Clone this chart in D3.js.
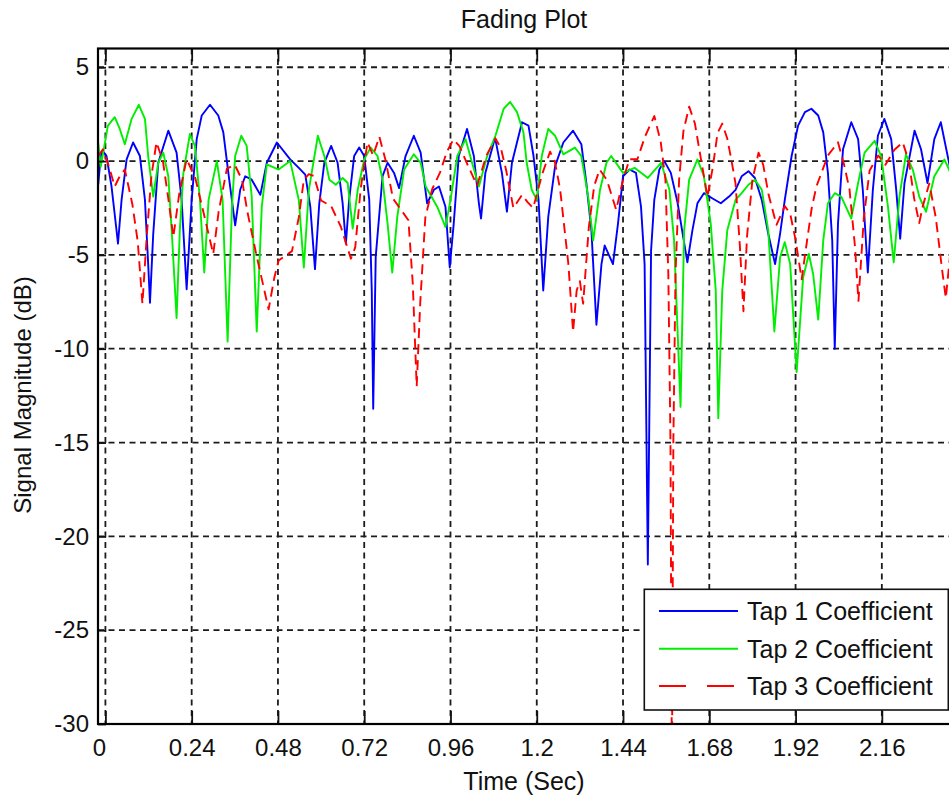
<!DOCTYPE html>
<html>
<head>
<meta charset="utf-8">
<script src="https://cdn.jsdelivr.net/npm/d3@7"></script>
<style>
  html, body { margin: 0; padding: 0; background: #fff; }
  svg { display: block; }
  text { font-family: "Liberation Sans", Arial, Helvetica, sans-serif; fill: #111; }
</style>
</head>
<body>
<svg id="chart" width="949" height="801"></svg>
<script>
// Fading magnitude (dB) of the three channel tap coefficients over time (s)
const tap1 = [
  [-0.020,-1.26],[-0.013,0.27],[-0.007,0.54],[0.003,0.27],[0.017,-1.35],[0.031,-3.7],[0.035,-4.4],
  [0.045,-2.07],[0.059,0.09],[0.077,0.99],[0.096,0.27],[0.110,-2.07],[0.119,-5.5],[0.124,-7.55],
  [0.133,-3.9],[0.147,-0.09],[0.175,1.62],[0.198,0.45],[0.212,-2.07],[0.226,-6.83],[0.240,-2.07],
  [0.254,1.17],[0.268,2.43],[0.291,3.0],[0.314,2.43],[0.328,1.53],[0.342,-0.63],[0.361,-3.42],
  [0.375,-1.53],[0.389,-0.81],[0.407,-0.99],[0.431,-1.8],[0.449,-0.09],[0.477,0.99],[0.514,0.09],
  [0.538,-0.36],[0.556,-0.72],[0.570,-2.43],[0.583,-5.76],[0.595,-2.25],[0.609,-0.09],[0.628,0.81],
  [0.646,-0.09],[0.660,-2.25],[0.669,-4.4],[0.678,-2.07],[0.692,0.27],[0.706,0.72],[0.720,0.27],
  [0.734,-2.07],[0.741,-6.9],[0.745,-13.2],[0.752,-5.1],[0.771,-0.8],[0.785,-0.09],[0.803,-0.63],
  [0.817,-1.44],[0.835,0.27],[0.858,1.35],[0.877,0.45],[0.895,-2.25],[0.914,-1.53],[0.928,-1.35],
  [0.946,-2.43],[0.958,-5.67],[0.969,-3.33],[0.983,0.27],[1.006,1.71],[1.025,0.27],[1.039,-2.25],
  [1.045,-3.06],[1.057,-0.63],[1.084,1.25],[1.103,-0.63],[1.117,-2.7],[1.131,-0.09],[1.159,2.07],
  [1.177,1.89],[1.191,0.27],[1.205,-2.07],[1.218,-6.9],[1.232,-2.97],[1.251,-0.27],[1.274,0.99],
  [1.301,1.62],[1.324,0.9],[1.338,-1.17],[1.352,-3.69],[1.366,-8.72],[1.380,-5.49],[1.389,-4.5],
  [1.412,-5.49],[1.426,-3.33],[1.440,-0.81],[1.458,-0.45],[1.476,-0.63],[1.490,-2.43],[1.500,-5.49],
  [1.509,-21.5],[1.518,-4.77],[1.527,-2.07],[1.541,-0.45],[1.555,0.0],[1.573,-0.63],[1.592,-2.25],
  [1.619,-5.4],[1.633,-3.69],[1.647,-2.25],[1.665,-1.71],[1.688,-1.98],[1.712,-2.25],[1.735,-1.89],
  [1.753,-1.53],[1.770,-0.81],[1.789,-0.54],[1.807,-0.9],[1.826,-2.07],[1.844,-3.87],[1.863,-5.49],
  [1.877,-3.87],[1.890,-2.07],[1.909,0.27],[1.927,1.89],[1.946,2.61],[1.964,2.79],[1.983,2.43],
  [1.997,1.53],[2.010,-0.63],[2.022,-4.23],[2.029,-10.0],[2.038,-3.33],[2.052,0.63],[2.075,2.07],
  [2.094,1.17],[2.107,-1.53],[2.121,-5.94],[2.135,-1.53],[2.149,1.35],[2.167,2.25],[2.186,1.17],
  [2.200,-1.53],[2.211,-4.14],[2.223,-1.17],[2.251,1.62],[2.269,0.63],[2.287,-1.17],[2.306,1.17],
  [2.324,2.07],[2.347,-0.09],[2.365,-2.0]
];

const tap2 = [
  [-0.020,0.99],[-0.013,-0.3],[0.007,1.89],[0.026,2.34],[0.040,1.71],[0.054,0.9],[0.073,2.25],
  [0.093,3.0],[0.110,2.25],[0.119,0.27],[0.133,-1.89],[0.147,-0.09],[0.161,0.45],[0.175,-0.81],
  [0.186,-4.23],[0.198,-8.36],[0.207,-3.69],[0.217,-0.63],[0.235,1.44],[0.249,0.81],[0.263,-2.07],
  [0.275,-5.94],[0.287,-2.07],[0.310,0.0],[0.326,-2.07],[0.340,-9.62],[0.352,-2.43],[0.361,0.27],
  [0.378,1.35],[0.393,0.81],[0.407,-1.89],[0.421,-9.08],[0.435,-2.43],[0.449,-0.18],[0.482,-0.45],
  [0.514,0.0],[0.538,-2.07],[0.552,-5.67],[0.566,-1.53],[0.591,1.35],[0.609,0.27],[0.623,-0.99],
  [0.641,-1.26],[0.660,-0.9],[0.674,-1.17],[0.688,-3.6],[0.702,-1.53],[0.720,0.09],[0.738,0.72],
  [0.757,0.27],[0.771,-0.99],[0.785,-3.33],[0.798,-5.94],[0.812,-2.97],[0.831,-0.45],[0.858,0.36],
  [0.877,-0.09],[0.891,-1.35],[0.923,-2.43],[0.946,-3.51],[0.960,-2.07],[0.979,0.27],[1.002,1.17],
  [1.020,-0.09],[1.039,-1.35],[1.062,0.27],[1.085,1.35],[1.108,2.79],[1.126,3.15],[1.145,2.61],
  [1.163,1.53],[1.172,-0.09],[1.186,-1.53],[1.200,-2.07],[1.214,0.27],[1.232,1.71],[1.251,1.35],
  [1.274,0.36],[1.306,0.72],[1.324,0.27],[1.343,-1.89],[1.357,-4.23],[1.376,-1.53],[1.394,-0.09],
  [1.407,0.27],[1.440,-0.63],[1.472,-0.36],[1.509,-0.9],[1.546,-0.09],[1.569,-1.53],[1.582,-4.23],
  [1.600,-13.1],[1.610,-3.69],[1.624,-0.99],[1.647,0.09],[1.665,-0.81],[1.684,-3.33],[1.698,-6.92],
  [1.705,-13.7],[1.716,-6.92],[1.730,-3.69],[1.753,-2.07],[1.770,-1.71],[1.789,-1.26],[1.807,-0.99],
  [1.826,-1.53],[1.844,-3.69],[1.861,-9.08],[1.877,-5.13],[1.890,-4.32],[1.905,-5.49],[1.923,-11.24],
  [1.941,-6.2],[1.957,-4.95],[1.969,-6.03],[1.983,-8.45],[1.997,-4.23],[2.010,-2.25],[2.029,-1.71],
  [2.047,-1.89],[2.075,-3.06],[2.094,-1.17],[2.112,0.45],[2.140,1.08],[2.158,0.27],[2.177,-2.43],
  [2.193,-5.4],[2.209,-1.89],[2.227,0.36],[2.246,-0.45],[2.264,-1.89],[2.283,-2.7],[2.306,-0.81],
  [2.334,0.09],[2.347,-0.45],[2.365,-1.5]
];

const tap3 = [
  [-0.020,0.27],[-0.007,0.63],[0.010,-0.3],[0.026,-1.35],[0.040,-0.8],[0.054,-0.45],[0.075,-2.3],
  [0.090,-4.3],[0.103,-7.6],[0.115,-4.0],[0.128,-0.8],[0.142,1.0],[0.160,0.0],[0.175,-2.0],
  [0.189,-4.05],[0.205,-1.8],[0.226,0.1],[0.250,-0.9],[0.270,-2.5],[0.300,-4.95],[0.315,-2.7],
  [0.338,-0.4],[0.360,-0.2],[0.380,-1.0],[0.395,-2.7],[0.420,-5.0],[0.454,-7.9],[0.470,-6.2],
  [0.482,-5.3],[0.519,-4.8],[0.538,-3.0],[0.552,-1.0],[0.566,-0.7],[0.580,-0.8],[0.600,-2.1],
  [0.628,-2.4],[0.655,-3.5],[0.683,-5.2],[0.695,-4.6],[0.710,-1.5],[0.729,1.0],[0.745,0.3],
  [0.762,1.3],[0.780,0.0],[0.800,-2.0],[0.843,-3.15],[0.855,-6.5],[0.866,-12.0],[0.876,-7.5],
  [0.890,-3.0],[0.909,-1.5],[0.931,-0.6],[0.950,0.5],[0.968,1.15],[0.985,0.8],[1.010,-0.3],
  [1.034,-1.3],[1.060,0.3],[1.085,1.2],[1.100,0.7],[1.115,-0.5],[1.135,-2.5],[1.159,-1.8],
  [1.175,-2.2],[1.190,-2.5],[1.215,-0.7],[1.237,0.5],[1.250,0.0],[1.265,-1.5],[1.288,-5.5],
  [1.301,-9.1],[1.311,-6.9],[1.320,-6.4],[1.329,-7.6],[1.345,-3.5],[1.360,-1.3],[1.375,-0.45],
  [1.395,-1.0],[1.421,-2.6],[1.440,-1.0],[1.458,0.1],[1.480,0.1],[1.501,1.3],[1.527,2.4],
  [1.545,1.0],[1.558,-1.0],[1.566,-6.0],[1.572,-15.0],[1.576,-33.0],[1.580,-15.0],[1.586,-6.0],
  [1.596,-1.0],[1.608,1.6],[1.624,2.9],[1.640,2.0],[1.655,0.3],[1.675,-1.9],[1.690,-0.3],
  [1.703,1.5],[1.716,2.0],[1.730,1.2],[1.742,0.0],[1.753,-1.2],[1.765,-4.5],[1.775,-8.0],
  [1.785,-4.0],[1.800,-1.0],[1.817,0.45],[1.830,-0.2],[1.845,-1.8],[1.867,-3.4],[1.890,-2.4],
  [1.905,-2.8],[1.920,-4.2],[1.937,-6.3],[1.950,-4.5],[1.965,-2.5],[1.978,-1.35],[2.010,0.3],
  [2.038,1.0],[2.055,-0.2],[2.070,-1.5],[2.085,-4.5],[2.095,-7.45],[2.110,-3.0],[2.126,-0.5],
  [2.150,0.3],[2.170,-0.2],[2.195,0.6],[2.218,1.0],[2.235,0.0],[2.250,-2.0],[2.264,-3.3],
  [2.274,-2.4],[2.292,-1.2],[2.310,-3.0],[2.329,-6.0],[2.338,-7.3],[2.350,-5.0],[2.365,-2.5]
];

const seriesNames = ["Tap 1 Coefficient", "Tap 2 Coefficient", "Tap 3 Coefficient"];
const xTickValues = [0, 0.24, 0.48, 0.72, 0.96, 1.2, 1.44, 1.68, 1.92, 2.16];
const xTickLabels = ["0", "0.24", "0.48", "0.72", "0.96", "1.2", "1.44", "1.68", "1.92", "2.16"];
const yTickValues = [5, 0, -5, -10, -15, -20, -25, -30];
const yTickLabels = ["5", "0", "-5", "-10", "-15", "-20", "-25", "-30"];

const svg = d3.select("#chart");

// axes box (right edge runs past the window)
const box = { left: 98, right: 962, top: 48.5, bottom: 724 };
const x = d3.scaleLinear().domain([-0.0206, 2.383]).range([box.left, box.right]);
const y = d3.scaleLinear().domain([-30, 6]).range([box.bottom, box.top]);

svg.append("defs").append("clipPath").attr("id", "plotClip")
  .append("rect").attr("x", box.left).attr("y", box.top)
  .attr("width", box.right - box.left).attr("height", box.bottom - box.top);

// dashed grid
const grid = svg.append("g").attr("stroke", "#1c1c1c").attr("stroke-width", 1.8)
  .attr("stroke-dasharray", "6,4.5").attr("fill", "none");
grid.selectAll("line.v").data(xTickValues).join("line").attr("class", "v")
  .attr("x1", d => x(d)).attr("x2", d => x(d)).attr("y1", box.top).attr("y2", box.bottom);
grid.selectAll("line.h").data(yTickValues).join("line").attr("class", "h")
  .attr("y1", d => y(d)).attr("y2", d => y(d)).attr("x1", box.left).attr("x2", box.right);

// traces
const line = d3.line().x(d => x(d[0])).y(d => y(d[1]));
const traces = svg.append("g").attr("clip-path", "url(#plotClip)").attr("fill", "none")
  .attr("stroke-linejoin", "round");
const styles = [
  { data: tap1, color: "#0000ff", dash: null },
  { data: tap2, color: "#00ee00", dash: null },
  { data: tap3, color: "#ff0000", dash: "10,6" }
];
styles.forEach(s => {
  traces.append("path").datum(s.data).attr("d", line)
    .attr("stroke", s.color).attr("stroke-width", 1.9)
    .attr("stroke-dasharray", s.dash);
});

// axes with inward ticks
const fontTick = 24;
const xAxis = svg.append("g").attr("transform", `translate(0,${box.bottom})`)
  .call(d3.axisBottom(x).tickValues(xTickValues).tickSize(-13).tickPadding(15)
    .tickFormat((d, i) => xTickLabels[i]));
const xAxisTop = svg.append("g").attr("transform", `translate(0,${box.top})`)
  .call(d3.axisTop(x).tickValues(xTickValues).tickSize(-13).tickFormat(""));
const yAxis = svg.append("g").attr("transform", `translate(${box.left},0)`)
  .call(d3.axisLeft(y).tickValues(yTickValues).tickSize(-8).tickPadding(9)
    .tickFormat((d, i) => yTickLabels[i]));

[xAxis, xAxisTop, yAxis].forEach(g => {
  g.select(".domain").remove();
  g.selectAll(".tick line").attr("stroke", "#111").attr("stroke-width", 1.8);
  g.selectAll(".tick text").attr("font-size", fontTick)
    .attr("font-family", "'Liberation Sans', Arial, sans-serif").attr("fill", "#111");
});
xAxis.selectAll(".tick text").filter(d => d === 0).attr("dx", -6.5);

// frame
svg.append("rect").attr("x", box.left).attr("y", box.top)
  .attr("width", box.right - box.left).attr("height", box.bottom - box.top)
  .attr("fill", "none").attr("stroke", "#000").attr("stroke-width", 2.2);

// titles
svg.append("text").attr("x", 524).attr("y", 28).attr("text-anchor", "middle")
  .attr("font-size", 25).text("Fading Plot");
svg.append("text").attr("x", 524).attr("y", 790).attr("text-anchor", "middle")
  .attr("font-size", 25).text("Time (Sec)");
svg.append("text").attr("transform", "translate(31,395) rotate(-90)")
  .attr("text-anchor", "middle").attr("font-size", 24).text("Signal Magnitude (dB)");

// legend
const legend = svg.append("g");
legend.append("rect").attr("x", 644.3).attr("y", 589.3).attr("width", 304).attr("height", 120.7)
  .attr("fill", "#fff").attr("stroke", "#111").attr("stroke-width", 1.6);
const rowY = [611, 648.7, 686];
const legendDash = [null, null, "27,21"];
styles.forEach((s, i) => {
  legend.append("line").attr("x1", 659).attr("x2", 738).attr("y1", rowY[i]).attr("y2", rowY[i])
    .attr("stroke", s.color).attr("stroke-width", 1.9).attr("stroke-dasharray", legendDash[i]);
  legend.append("text").attr("x", 747).attr("y", rowY[i] + 9)
    .attr("font-size", 25).text(seriesNames[i]);
});
</script>
</body>
</html>
